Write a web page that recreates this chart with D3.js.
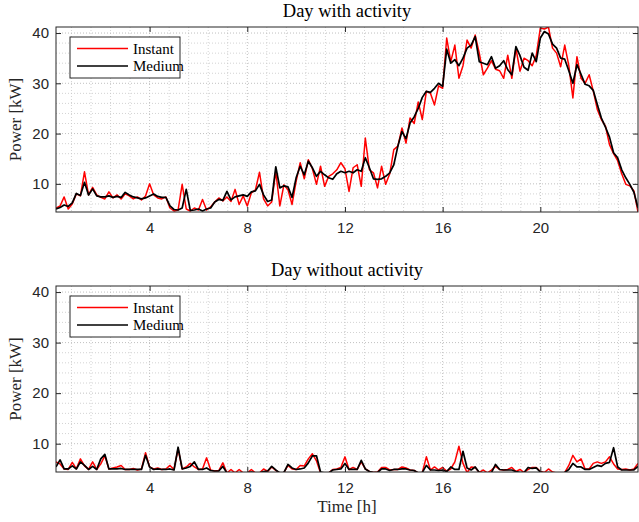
<!DOCTYPE html>
<html><head><meta charset="utf-8">
<script src="https://cdn.jsdelivr.net/npm/d3@7"></script>
<style>body{margin:0;background:#fff} svg{display:block}</style>
</head><body>
<svg id="chart" width="639" height="522"></svg>
<script>
// time in hours, 10-minute samples
const time = d3.range(1, 145).map(i => i / 6);

const activeInstant = [
 5.2,5.6,7.4,5.0,6.0,8.0, 7.6,12.4,7.8,9.3,7.8,7.3, 7.0,8.4,7.2,7.8,7.0,8.0, 7.6,7.0,7.4,6.8,7.6,10.0,
 7.8,7.2,7.0,7.4,5.2,4.6, 4.8,9.9,5.0,4.6,5.2,4.8, 6.9,4.8,5.4,6.4,7.2,6.6, 7.4,6.5,8.9,5.9,7.6,5.6,
 8.2,8.8,12.3,7.0,5.6,6.4, 12.5,5.6,9.8,8.8,5.9,10.5, 14.2,11.0,14.8,13.0,9.9,13.5, 9.5,11.5,12.0,12.8,14.2,13.0,
 8.5,13.2,13.8,9.5,19.1,12.8, 12.2,9.2,13.5,9.9,12.0,16.8, 17.5,21.1,18.1,23.1,22.0,26.3, 22.8,28.4,28.0,25.7,29.5,29.0,
 39.0,34.3,37.6,31.0,33.5,38.6, 37.0,39.6,36.0,31.7,33.0,34.5, 32.8,32.5,31.0,35.6,31.0,37.0, 32.4,35.0,34.5,33.5,35.5,41.0,
 40.8,41.2,37.0,36.0,33.3,37.6, 33.5,27.1,35.3,31.0,30.0,31.7, 28.5,24.8,22.8,21.5,17.8,16.0, 14.6,12.0,9.9,9.6,8.6,4.4
];
const activeMedium = [
 5.0,5.3,5.8,5.5,6.2,8.1, 7.7,10.3,7.8,9.0,7.6,7.4, 7.4,7.6,7.3,7.5,7.3,8.3, 7.8,7.4,7.2,7.0,7.2,7.6,
 8.0,7.5,7.3,7.3,5.6,4.9, 4.8,5.2,8.9,4.7,4.8,5.0, 4.6,5.0,5.2,6.4,6.9,6.7, 8.5,6.8,7.4,7.6,7.8,7.5,
 8.4,8.6,9.9,7.8,6.5,6.8, 13.4,9.2,9.6,9.4,7.3,11.2, 13.5,11.8,14.5,13.2,11.5,12.5, 11.8,11.2,10.9,12.0,12.5,12.2,
 12.5,12.2,12.8,12.5,15.2,13.2, 11.0,10.9,11.0,11.5,12.2,13.8, 17.5,20.4,19.0,22.1,23.3,25.0, 27.2,28.4,28.2,29.0,30.0,29.4,
 36.8,34.0,34.7,33.5,35.0,37.0, 37.6,39.3,34.3,34.0,33.7,35.3, 33.0,33.5,34.5,32.7,31.7,37.3, 35.5,33.2,32.6,36.0,34.3,39.0,
 40.3,39.8,37.8,37.0,35.0,34.8, 32.5,30.0,33.7,31.8,29.8,29.5, 28.6,25.8,23.1,21.3,19.3,16.2, 15.2,12.8,11.2,9.9,8.3,5.2
];
const idleInstant = [
 6.4,6.0,5.0,4.9,6.3,5.0, 7.0,5.6,4.9,6.4,4.9,6.0, 7.6,5.0,5.2,5.4,5.7,4.9, 4.9,5.1,4.8,5.0,8.2,5.4,
 5.0,5.2,4.9,5.0,5.7,4.9, 9.0,5.0,5.4,6.1,5.4,4.9, 5.0,7.2,4.8,4.6,4.7,6.2, 4.2,4.9,4.2,4.9,4.2,4.2,
 4.9,4.2,4.2,5.0,4.5,5.4, 4.7,4.2,4.3,5.7,5.0,4.9, 5.7,5.6,7.0,8.0,6.6,4.2, 4.2,4.2,4.9,5.0,5.3,7.4,
 4.9,5.3,4.9,6.4,5.0,4.5, 4.3,4.4,5.3,5.3,4.8,4.9, 4.9,5.4,5.2,4.8,4.7,4.2, 4.3,7.4,4.8,5.4,4.8,5.3,
 4.6,5.0,6.4,9.5,6.1,4.3, 5.4,5.3,4.3,4.8,4.2,4.8, 5.5,4.9,4.8,4.9,5.3,4.5, 4.9,4.3,4.9,5.3,5.3,4.5,
 4.3,5.0,4.4,4.2,4.2,4.3, 5.7,7.7,6.4,7.0,5.0,5.0, 6.1,6.4,6.1,6.4,7.4,6.0, 5.0,4.9,5.0,4.8,5.0,6.1
];
const idleMedium = [
 5.4,6.8,5.0,5.0,5.6,5.0, 6.4,5.7,4.9,5.5,4.9,7.0, 7.9,5.0,5.0,5.0,5.1,4.9, 4.9,4.9,4.9,4.9,7.7,5.4,
 4.9,5.0,4.9,4.9,5.0,4.8, 9.3,5.0,5.2,5.5,6.4,4.9, 4.9,5.2,4.7,4.6,4.6,5.5, 4.2,4.2,4.1,4.2,4.1,4.2,
 4.4,4.2,4.2,4.5,4.6,5.5, 4.8,4.2,4.3,5.9,5.2,4.9, 5.0,5.2,6.2,7.6,7.6,4.4, 4.2,4.2,4.8,4.9,5.0,6.1,
 4.9,4.9,4.9,6.7,5.0,4.5, 4.3,4.3,5.0,5.0,4.7,4.9, 4.9,5.0,5.0,4.8,4.7,4.2, 4.3,5.7,4.8,4.8,4.7,4.8,
 4.5,5.4,4.9,4.9,8.5,5.2, 4.8,5.4,4.3,4.2,4.2,4.3, 5.9,4.9,4.8,4.8,4.8,4.5, 4.3,4.3,5.3,5.1,5.2,4.4,
 4.2,4.3,4.2,4.2,4.2,4.3, 4.9,6.1,5.4,5.4,4.9,4.9, 5.3,5.7,5.5,6.1,6.3,9.2, 5.4,4.8,4.8,4.8,4.8,5.5
];

const xTicks = [4, 8, 12, 16, 20];
const yTicks = [10, 20, 30, 40];
const xMinorStep = 0.8, yMinorStep = 2;
const yRange = [4.4, 41.2];
const seriesNames = ["Instant", "Medium"];
const seriesColors = ["#ff0000", "#000000"];
const titles = ["Day with activity", "Day without activity"];

const panels = [
  {title: titles[0], data: [activeInstant, activeMedium], top: 27, bottom: 212},
  {title: titles[1], data: [idleInstant, idleMedium], top: 286, bottom: 472}
];

const svg = d3.select("#chart");
const left = 56, right = 638;
const axisColor = "#262626";
const x = d3.scaleLinear().domain(d3.extent(time)).range([left, right]);

const xMinor = d3.range(xMinorStep, 24, xMinorStep).filter(v => v > x.domain()[0]);
const yMinor = d3.range(yMinorStep * 3, yRange[1], yMinorStep);

panels.forEach((p, pi) => {
  const y = d3.scaleLinear().domain(yRange).range([p.bottom, p.top]);
  const g = svg.append("g");
  const clipId = "clip" + pi;
  svg.append("clipPath").attr("id", clipId).append("rect")
    .attr("x", left).attr("y", p.top).attr("width", right - left).attr("height", p.bottom - p.top);

  // grid
  const grid = g.append("g").attr("fill", "none").attr("stroke-width", 0.8).attr("stroke-dasharray", "1,2");
  grid.selectAll(".xm").data(xMinor).join("line")
    .attr("x1", d => x(d)).attr("x2", d => x(d)).attr("y1", p.top).attr("y2", p.bottom)
    .attr("stroke", d => xTicks.includes(+d.toFixed(1)) ? "#b0b0b0" : "#c8c8c8");
  grid.selectAll(".ym").data(yMinor).join("line")
    .attr("y1", d => y(d)).attr("y2", d => y(d)).attr("x1", left).attr("x2", right)
    .attr("stroke", d => yTicks.includes(d) ? "#b0b0b0" : "#c8c8c8");

  // lines
  const line = d3.line().x((d, i) => x(time[i])).y(d => y(d));
  const lg = g.append("g").attr("clip-path", `url(#${clipId})`);
  p.data.forEach((s, si) => {
    lg.append("path").datum(s).attr("d", line).attr("fill", "none")
      .attr("stroke", seriesColors[si]).attr("stroke-width", si === 0 ? 1.5 : 1.7)
      .attr("stroke-linejoin", "round");
  });

  // axes
  const fontTick = "Liberation Sans, Arial, sans-serif";
  const ax = [
    g.append("g").attr("transform", `translate(0,${p.bottom})`).call(d3.axisBottom(x).tickValues(xTicks).tickSize(-5).tickPadding(10).tickSizeOuter(0)),
    g.append("g").attr("transform", `translate(0,${p.top})`).call(d3.axisTop(x).tickValues(xTicks).tickSize(-5).tickFormat("").tickSizeOuter(0)),
    g.append("g").attr("transform", `translate(${left},0)`).call(d3.axisLeft(y).tickValues(yTicks).tickSize(-5).tickPadding(7).tickSizeOuter(0)),
    g.append("g").attr("transform", `translate(${right},0)`).call(d3.axisRight(y).tickValues(yTicks).tickSize(-5).tickFormat("").tickSizeOuter(0))
  ];
  ax.forEach(a => {
    a.select(".domain").remove();
    a.selectAll("line").attr("stroke", axisColor);
    a.selectAll("text").attr("font-family", fontTick).attr("font-size", 15).attr("fill", axisColor);
  });
  g.append("rect").attr("x", left).attr("y", p.top).attr("width", right - left).attr("height", p.bottom - p.top)
    .attr("fill", "none").attr("stroke", axisColor).attr("stroke-width", 1);

  // title & ylabel
  const serif = "Liberation Serif, Times New Roman, serif";
  g.append("text").attr("x", (left + right) / 2).attr("y", p.top - 10).attr("text-anchor", "middle")
    .attr("font-family", serif).attr("font-size", 18.5).attr("fill", "#000").text(p.title);
  g.append("text").attr("transform", `translate(21,${(p.top + p.bottom) / 2}) rotate(-90)`).attr("text-anchor", "middle")
    .attr("font-family", serif).attr("font-size", 17).attr("fill", axisColor).text("Power [kW]");

  // legend
  const lx = left + 14, ly = p.top + 10;
  const leg = g.append("g");
  leg.append("rect").attr("x", lx).attr("y", ly).attr("width", 110).attr("height", 41)
    .attr("fill", "#fff").attr("stroke", axisColor).attr("stroke-width", 1);
  seriesNames.forEach((n, si) => {
    const cy = ly + 11.5 + si * 17.5;
    leg.append("line").attr("x1", lx + 7).attr("x2", lx + 58).attr("y1", cy).attr("y2", cy)
      .attr("stroke", seriesColors[si]).attr("stroke-width", si === 0 ? 1.5 : 1.7);
    leg.append("text").attr("x", lx + 63).attr("y", cy + 5).attr("font-family", serif).attr("font-size", 15)
      .attr("fill", "#000").text(n);
  });
});

svg.append("text").attr("x", (left + right) / 2).attr("y", 512).attr("text-anchor", "middle")
  .attr("font-family", "Liberation Serif, Times New Roman, serif").attr("font-size", 17).attr("fill", axisColor).text("Time [h]");
</script>
</body></html>
